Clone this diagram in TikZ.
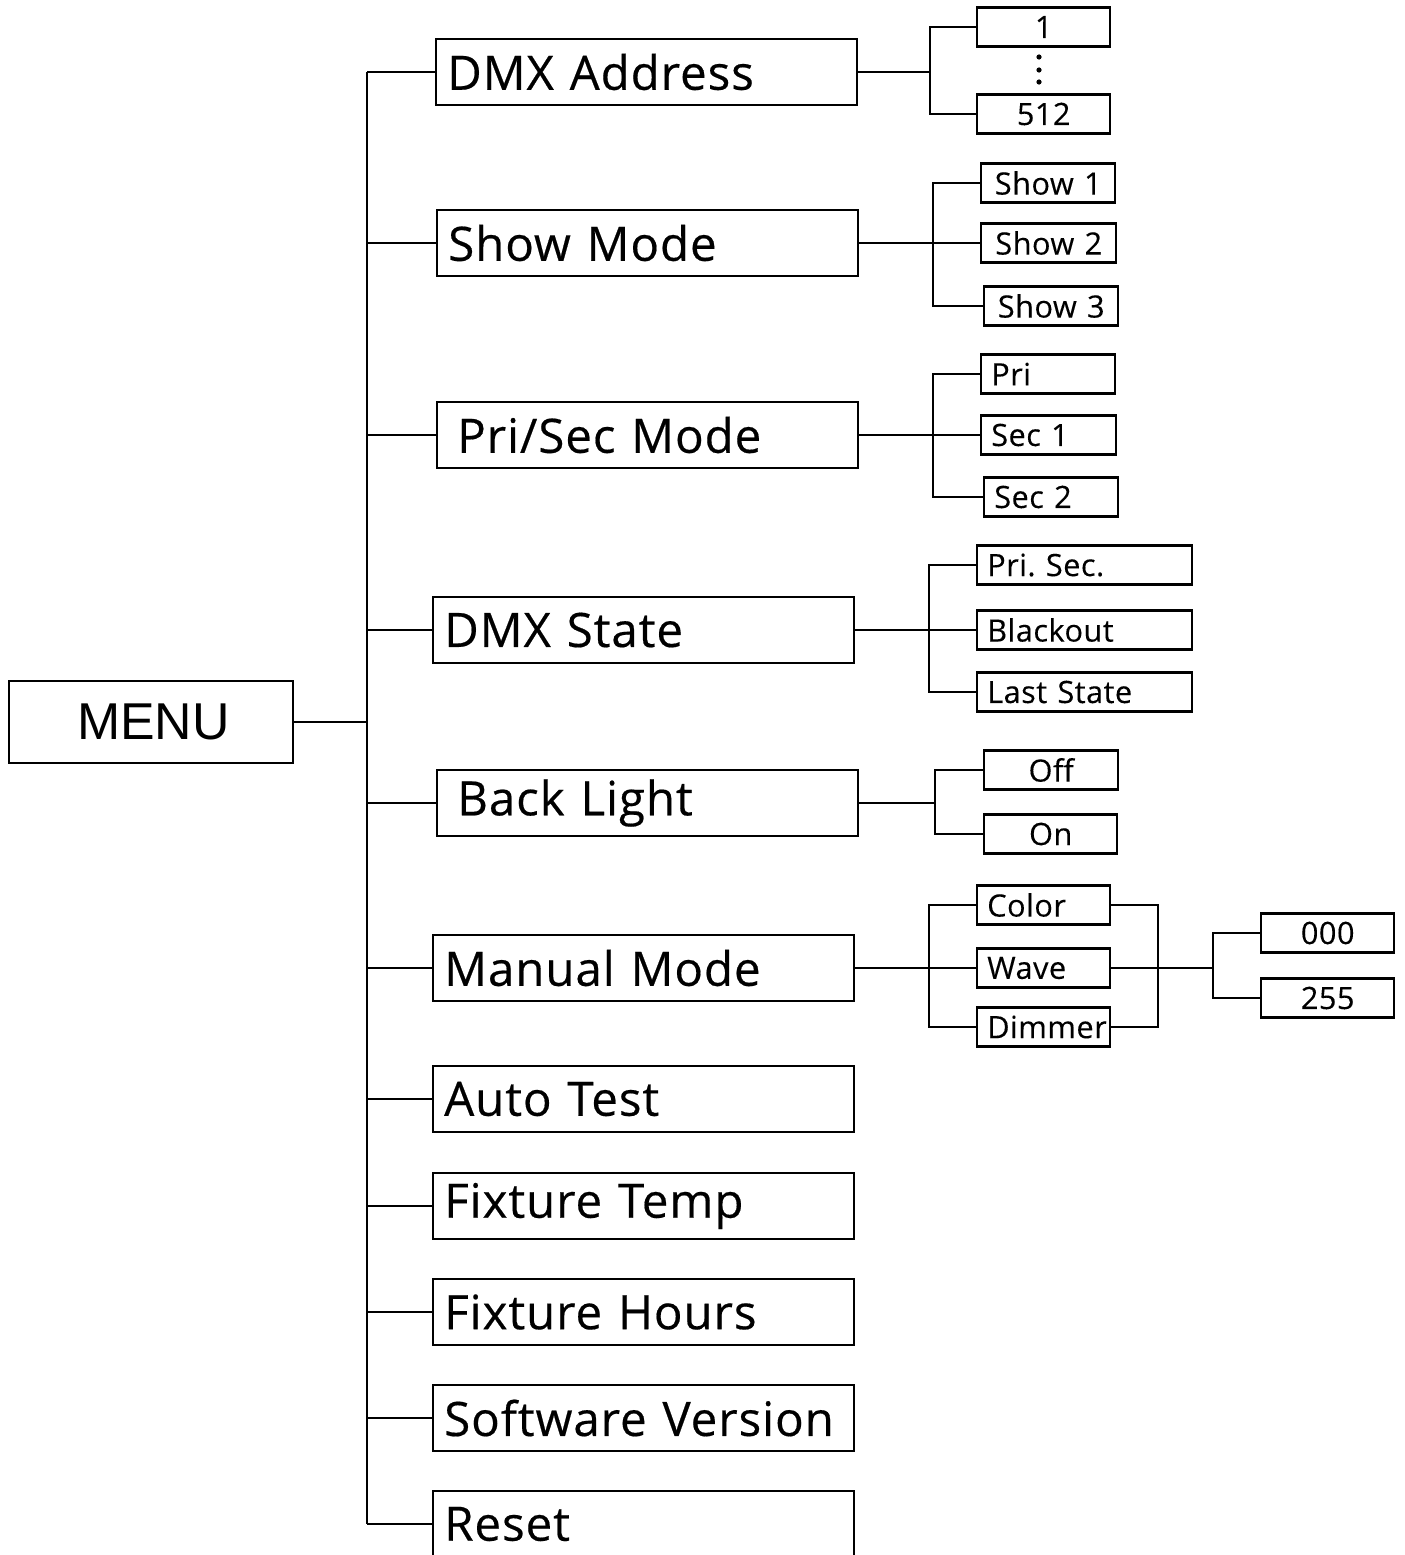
\documentclass[tikz,border=0pt]{standalone}
\usepackage{fontspec}
\usepackage{tikz}
\newfontfamily\menufont{Liberation Sans}
\newfontfamily\itemfont{Open Sans}[LetterSpace=2, FakeBold=0.4]
\newfontfamily\smallfont{Open Sans}[LetterSpace=1.5, FakeBold=0.2]

\begin{document}
\begin{tikzpicture}[x=0.02cm, y=-0.02cm, line width=1.4pt,
    menubox/.style={rectangle, draw, minimum width=5.68cm, minimum height=1.64cm, font=\menufont\fontsize{29.5}{30}\selectfont},
    mainbox/.style={rectangle, draw, anchor=west, text width=7.98cm, inner xsep=0.22cm, minimum height=1.32cm, align=left, font=\itemfont\fontsize{27}{30}\selectfont},
    subbox/.style={rectangle, draw, anchor=west, text width=#1, inner xsep=0.2cm, inner ysep=0pt, minimum height=0.78cm, font=\smallfont\fontsize{17.5}{18}\selectfont},
    subl/.style={subbox=#1, align=left},
    subc/.style={subbox=#1, align=center}]

    \useasboundingbox (0,0) rectangle (1405,1555);

    \node[menubox] (menu) at (151,722) {\hspace{0.1cm}MENU};

    % main menu
    \node[mainbox] (dmx) at (435,72) {DMX Address};
    \node[mainbox] (show) at (436,243) {Show Mode};
    \node[mainbox] (prisec) at (436,435) {\hspace{0.18cm}Pri/Sec Mode};
    \node[mainbox] (state) at (432,630) {DMX State};
    \node[mainbox] (blight) at (436,803) {\hspace{0.18cm}Back Light};
    \node[mainbox] (manual) at (432,968) {Manual Mode};
    \node[mainbox] (auto) at (432,1099) {Auto Test};
    \node[mainbox] (ftemp) at (432,1206) {Fixture Temp};
    \node[mainbox] (fhours) at (432,1312) {Fixture Hours};
    \node[mainbox] (soft) at (432,1418) {Software Version};
    \node[mainbox] (reset) at (432,1524) {Reset};

    % sub menus
    \node[subc=2.26cm] (a1) at (976,27) {1};
    \node[subc=2.26cm] (a512) at (976,114) {512};
    \node[subc=2.28cm] (s1) at (980,183) {Show 1};
    \node[subc=2.30cm] (s2) at (980,243) {Show 2};
    \node[subc=2.28cm] (s3) at (983,306) {Show 3};
    \node[subl=2.28cm] (p1) at (980,374) {Pri};
    \node[subl=2.30cm] (p2) at (980,435) {Sec 1};
    \node[subl=2.28cm] (p3) at (983,497) {Sec 2};
    \node[subl=3.90cm] (d1) at (976,565) {Pri.\ Sec.};
    \node[subl=3.90cm] (d2) at (976,630) {Blackout};
    \node[subl=3.90cm] (d3) at (976,692) {Last State};
    \node[subc=2.28cm] (b1) at (983,770) {Off};
    \node[subc=2.26cm] (b2) at (983,834) {On};
    \node[subl=2.26cm] (m1) at (976,905) {Color};
    \node[subl=2.26cm] (m2) at (976,968) {Wave};
    \node[subl=2.26cm] (m3) at (976,1027) {Dimmer};
    \node[subc=2.26cm] (v1) at (1260,933) {000};
    \node[subc=2.26cm] (v2) at (1260,998) {255};

    \fill (1039,57) circle (2.6) (1039,70) circle (2.6) (1039,82) circle (2.6);

    \coordinate (trunk) at (367,0);
    \draw (menu.east) -- (menu.east -| trunk);
    \draw (dmx.west -| trunk) -- (reset.west -| trunk);
    \foreach \m in {dmx,show,prisec,state,blight,manual,auto,ftemp,fhours,soft,reset}
        \draw (\m.west) -- (\m.west -| trunk);

    \coordinate (ja) at (930,0);
    \draw (dmx.east) -- (dmx.east -| ja);
    \draw (a1.west) -- (a1.west -| ja) -- (a512.west -| ja) -- (a512.west);

    \coordinate (js) at (933,0);
    \draw (show.east) -- (s2.west);
    \draw (s1.west) -- (s1.west -| js) -- (s3.west -| js) -- (s3.west);

    \coordinate (jp) at (933,0);
    \draw (prisec.east) -- (p2.west);
    \draw (p1.west) -- (p1.west -| jp) -- (p3.west -| jp) -- (p3.west);

    \coordinate (jd) at (929,0);
    \draw (state.east) -- (d2.west);
    \draw (d1.west) -- (d1.west -| jd) -- (d3.west -| jd) -- (d3.west);

    \coordinate (jb) at (935,0);
    \draw (blight.east) -- (blight.east -| jb);
    \draw (b1.west) -- (b1.west -| jb) -- (b2.west -| jb) -- (b2.west);

    \coordinate (jm) at (929,0);
    \draw (manual.east) -- (m2.west);
    \draw (m1.west) -- (m1.west -| jm) -- (m3.west -| jm) -- (m3.west);

    % values for color, wave and dimmer
    \coordinate (jr) at (1158,0);
    \coordinate (jv) at (1213,0);
    \draw (m1.east) -- (m1.east -| jr) -- (m3.east -| jr) -- (m3.east);
    \draw (m2.east) -- (m2.east -| jv);
    \draw (v1.west) -- (v1.west -| jv) -- (v2.west -| jv) -- (v2.west);
\end{tikzpicture}
\end{document}
